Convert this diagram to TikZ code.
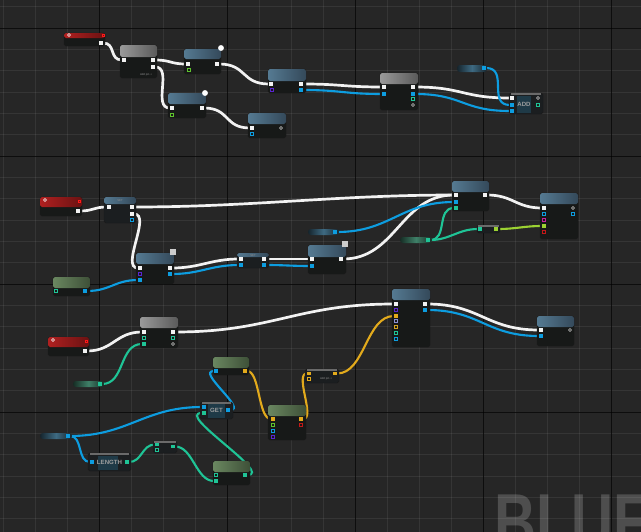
\documentclass[tikz,border=0pt]{standalone}
\usepackage{fontspec}
\setsansfont{Liberation Sans}
\usetikzlibrary{positioning, fit, backgrounds}

\definecolor{canvas}{HTML}{262626}
\definecolor{wmgray}{HTML}{4E4E4E}
\definecolor{nodebody}{HTML}{171918}
\definecolor{cbodyc}{HTML}{1B1E20}
\definecolor{cgridc}{HTML}{1F3A47}
\definecolor{stripc}{HTML}{6A6A6A}
\definecolor{blueA}{HTML}{557A92}
\definecolor{blueB}{HTML}{34495A}
\definecolor{grayA}{HTML}{9A9A9A}
\definecolor{grayB}{HTML}{5A5A5A}
\definecolor{redA}{HTML}{B02020}
\definecolor{redB}{HTML}{6A1212}
\definecolor{greenA}{HTML}{6A8760}
\definecolor{greenB}{HTML}{3E5038}
\definecolor{varblue}{HTML}{3E6A82}
\definecolor{varteal}{HTML}{3F8068}
\definecolor{wirewhite}{HTML}{F2F2F2}
\definecolor{pincyan}{HTML}{0D9DE0}
\definecolor{pinteal}{HTML}{1FC496}
\definecolor{pinyellow}{HTML}{E2AA1C}
\definecolor{pinlime}{HTML}{9CD232}
\definecolor{pingreen}{HTML}{5EC22E}
\definecolor{pinpurple}{HTML}{5A24D0}
\definecolor{pinmagenta}{HTML}{C8209E}
\definecolor{pinred}{HTML}{C41818}
\definecolor{pinlav}{HTML}{8C92D4}
\definecolor{pinorange}{HTML}{D4A420}

\begin{document}
\begin{tikzpicture}[x=0.03cm, y=-0.03cm, font=\sffamily,
    minor/.style={white, opacity=0.07, line width=0.5pt},
    major/.style={black, opacity=0.75, line width=0.7pt},
    logo/.style={inner sep=0pt, text=wmgray, font=\sffamily\bfseries\fontsize{69}{70}\selectfont},
    body/.style={rectangle, draw=black!90, fill=nodebody, rounded corners=1.5pt, inner sep=0pt, outer sep=0pt},
    cbody/.style={body, fill=cbodyc},
    hdr/.style={rectangle, rounded corners=1.5pt, inner sep=0pt, outer sep=0pt, left color=#1A, right color=#1B},
    strip/.style={rectangle, inner sep=0pt, outer sep=0pt, fill=stripc},
    cgrid/.style={rectangle, inner sep=0pt, fill=cgridc},
    var/.style={rectangle, rounded corners=2.5pt, inner sep=0pt, outer sep=0pt, left color=#1!35!black, right color=#1!35!black, middle color=#1},
    xpin/.style={rectangle, fill=wirewhite, minimum size=3.2pt, inner sep=0pt},
    dpin/.style={rectangle, fill=#1, minimum size=3.2pt, inner sep=0pt},
    opin/.style={rectangle, draw=#1, line width=0.5pt, minimum size=2.6pt, inner sep=0pt},
    rpin/.style={circle, draw=white!80!black, line width=0.5pt, minimum size=2.6pt, inner sep=0pt},
    redtag/.style={rectangle, draw=red!90, line width=0.5pt, minimum size=2pt, inner sep=0pt},
    ring/.style={circle, draw=white!60, line width=0.5pt, minimum size=2.6pt, inner sep=0pt},
    bulb/.style={circle, fill=white, minimum size=5pt, inner sep=0pt},
    icon/.style={rectangle, fill=white!80!black, minimum size=4.5pt, inner sep=0pt},
    tag/.style={inner sep=0pt, text=white!55!black, font=\sffamily\fontsize{2.4}{3}\selectfont},
    ctext/.style={inner sep=0pt, text=white!62!black, font=\sffamily\bfseries\fontsize{5.2}{6}\selectfont},
    wire/.style={line cap=round},
    wexec/.style={wire, draw=wirewhite, line width=2.3pt},
    wdata/.style={wire, draw=#1, line width=1.8pt},
]
\useasboundingbox (0,0) rectangle (641,532);

% ========== CANVAS ==========
\begin{scope}[on background layer]
    \fill[canvas] (0,0) rectangle (641,532);
    \begin{scope}
        \clip (0,0) rectangle (641,532);
        \node[logo, anchor=base west] (wm) at (494,550) {\scalebox{0.72}[1]{BLUEPRINT}};
    \end{scope}
    \foreach \x in {3,35,...,643} \draw[minor] (\x,0) -- (\x,532);
    \foreach \y in {6.67,28,...,532} \draw[minor] (0,\y) -- (641,\y);
    \foreach \x in {99,227,...,611} \draw[major] (\x,0) -- (\x,532);
    \foreach \y in {28,156,...,412} \draw[major] (0,\y) -- (641,\y);
\end{scope}

% ========== GRAPH 1 ==========
% Event
\node[body, fit={(64,33) (105,46)}] (e1) {};
\node[hdr=red, fit={(64,33) (105,38)}] (e1h) {};
\node[redtag] (e1t) at (103,35) {};
\node[ring] (e1r) at (69,35) {};
\node[xpin] (e1o) at (101,43) {};

% Sequence
\node[body, fit={(120,45) (157,78)}] (n1) {};
\node[hdr=gray, fit={(120,45) (157,57)}] (n1h) {};
\node[xpin] (n1i) at (124,60) {};
\node[xpin] (n1o1) at (153,60) {};
\node[xpin] (n1o2) at (153,67) {};
\node[tag] (n1t) at (146,75) {Add pin +};

% Calls
\node[body, fit={(184,49) (221,74)}] (n2) {};
\node[hdr=blue, fit={(184,49) (221,59)}] (n2h) {};
\node[bulb] (n2b) at (221,48) {};
\node[xpin] (n2i) at (188,64) {};
\node[xpin] (n2o) at (217,64) {};
\node[opin=pingreen] (n2g) at (189,70) {};

\node[body, fit={(168,93) (206,118)}] (n3) {};
\node[hdr=blue, fit={(168,93) (206,104)}] (n3h) {};
\node[bulb] (n3b) at (205,93) {};
\node[xpin] (n3i) at (172,108) {};
\node[xpin] (n3o) at (202,108) {};
\node[opin=pingreen] (n3g) at (172,115) {};

\node[body, fit={(248,113) (286,138)}] (n4) {};
\node[hdr=blue, fit={(248,113) (286,124)}] (n4h) {};
\node[xpin] (n4i) at (252,128) {};
\node[rpin] (n4r) at (281,128) {};
\node[opin=pincyan] (n4c) at (252,134) {};

\node[body, fit={(268,69) (306,93)}] (n5) {};
\node[hdr=blue, fit={(268,69) (306,81)}] (n5h) {};
\node[xpin] (n5i) at (271,84) {};
\node[xpin] (n5o) at (301,84) {};
\node[opin=pinpurple] (n5p) at (272,90) {};
\node[dpin=pincyan] (n5c) at (301,90) {};

\node[body, fit={(380,73) (418,110)}] (n6) {};
\node[hdr=gray, fit={(380,73) (418,84)}] (n6h) {};
\node[xpin] (n6i) at (384,87) {};
\node[dpin=pincyan] (n6ci) at (384,94) {};
\node[xpin] (n6o) at (413,87) {};
\node[dpin=pincyan] (n6co) at (413,94) {};
\node[opin=pinteal] (n6t) at (413,99) {};
\node[rpin] (n6r) at (413,105) {};

% Add
\node[var=varblue, fit={(457,65) (487,72)}] (n7) {};
\node[dpin=pincyan] (n7o) at (484,68) {};
\node[cbody, fit={(509,93) (543,114)}] (n8) {};
\node[strip, fit={(511,93) (541,95)}] (n8s) {};
\node[cgrid, fit={(517,96) (531,113)}] (n8g) {};
\node[ctext] (n8t) at (524,104.5) {ADD};
\node[xpin] (n8x) at (512,98) {};
\node[dpin=pincyan] (n8a) at (512,105) {};
\node[dpin=pincyan] (n8b) at (512,111) {};
\node[rpin] (n8r) at (538,98) {};
\node[opin=pinteal] (n8o) at (538,105) {};

% ========== GRAPH 2 ==========
\node[body, fit={(40,197) (82,216)}] (e2) {};
\node[hdr=red, fit={(40,197) (82,207)}] (e2h) {};
\node[redtag] (e2t) at (79,201) {};
\node[ring] (e2r) at (45,200) {};
\node[xpin] (e2o) at (78,211) {};

\node[cbody, fit={(104,197) (136,223)}] (b1) {};
\node[hdr=blue, fit={(104,197) (136,204)}] (b1h) {};
\node[tag] (b1t) at (120,200.5) {SET};
\node[xpin] (b1i) at (109,207) {};
\node[xpin] (b1o1) at (132,207) {};
\node[xpin] (b1o2) at (132,214) {};
\node[opin=pincyan] (b1c) at (132,220) {};

\node[body, fit={(136,253) (174,284)}] (b2) {};
\node[hdr=blue, fit={(136,253) (174,264)}] (b2h) {};
\node[icon] (b2x) at (173,252) {};
\node[xpin] (b2i) at (140,268) {};
\node[xpin] (b2o) at (170,268) {};
\node[opin=pinpurple] (b2p) at (140,274) {};
\node[dpin=pincyan] (b2co) at (170,274) {};
\node[dpin=pincyan] (b2ci) at (140,280) {};

\node[body, fit={(53,277) (90,296)}] (g1) {};
\node[hdr=green, fit={(53,277) (90,288)}] (g1h) {};
\node[opin=pinteal] (g1t) at (56,291) {};
\node[dpin=pincyan] (g1o) at (85,291) {};

\node[cbody, fit={(237,253) (269,268)}] (s1) {};
\node[hdr=blue, fit={(237,253) (269,257)}] (s1h) {};
\node[tag] (s1t) at (253,255.5) {SET};
\node[xpin] (s1i) at (241,259) {};
\node[dpin=pincyan] (s1ci) at (241,265) {};
\node[xpin] (s1o) at (264,259) {};
\node[dpin=pincyan] (s1co) at (264,265) {};

\node[body, fit={(308,245) (346,274)}] (b3) {};
\node[hdr=blue, fit={(308,245) (346,257)}] (b3h) {};
\node[icon] (b3x) at (345,244) {};
\node[xpin] (b3i) at (312,259) {};
\node[dpin=pincyan] (b3ci) at (312,266) {};
\node[xpin] (b3o) at (341,259) {};

\node[var=varblue, fit={(308,229) (339,235)}] (v1) {};
\node[dpin=pincyan] (v1o) at (335,232) {};

\node[body, fit={(452,181) (489,211)}] (b4) {};
\node[hdr=blue, fit={(452,181) (489,192)}] (b4h) {};
\node[xpin] (b4i) at (456,195) {};
\node[dpin=pincyan] (b4ci) at (456,202) {};
\node[dpin=pinteal] (b4ti) at (456,208) {};
\node[xpin] (b4o) at (485,195) {};

\node[var=varteal, fit={(400,237) (432,243)}] (v2) {};
\node[dpin=pinteal] (v2o) at (428,240) {};

\node[cbody, fit={(477,225) (500,233)}] (c1) {};
\node[strip, fit={(478,225) (499,226.5)}] (c1s) {};
\node[dpin=pinteal] (c1i) at (480,229) {};
\node[dpin=pinlime] (c1o) at (496,229) {};

\node[body, fit={(540,193) (578,239)}] (b5) {};
\node[hdr=blue, fit={(540,193) (578,204)}] (b5h) {};
\node[xpin] (b5i) at (544,208) {};
\node[opin=pincyan] (b5c) at (544,214) {};
\node[opin=pinmagenta] (b5m) at (544,220) {};
\node[dpin=pinlime] (b5li) at (544,226) {};
\node[opin=pinred] (b5r) at (544,232) {};
\node[rpin] (b5d) at (573,208) {};
\node[opin=pincyan] (b5co) at (573,214) {};

% ========== GRAPH 3 ==========
\node[body, fit={(48,337) (89,356)}] (e3) {};
\node[hdr=red, fit={(48,337) (89,347)}] (e3h) {};
\node[redtag] (e3t) at (86,341) {};
\node[ring] (e3r) at (53,340) {};
\node[xpin] (e3o) at (85,351) {};

\node[body, fit={(140,317) (178,348)}] (p1) {};
\node[hdr=gray, fit={(140,317) (178,328)}] (p1h) {};
\node[xpin] (p1i) at (144,332) {};
\node[opin=pinteal] (p1t) at (144,338) {};
\node[dpin=pinteal] (p1ti) at (144,344) {};
\node[xpin] (p1o) at (173,332) {};
\node[opin=pinteal] (p1to) at (173,338) {};
\node[rpin] (p1r) at (173,344) {};

\node[var=varteal, fit={(73,381) (104,387)}] (v3) {};
\node[dpin=pinteal] (v3o) at (100,384) {};

\node[body, fit={(392,289) (430,347)}] (q1) {};
\node[hdr=blue, fit={(392,289) (430,300)}] (q1h) {};
\node[xpin] (q1i) at (396,304) {};
\node[opin=pinpurple] (q1p) at (396,310) {};
\node[dpin=pinyellow] (q1yi) at (396,316) {};
\node[opin=pinlav] (q1l) at (396,321) {};
\node[opin=pinorange] (q1g) at (396,327) {};
\node[opin=pinteal] (q1t) at (396,333) {};
\node[opin=pincyan] (q1c) at (396,339) {};
\node[xpin] (q1o) at (425,304) {};
\node[dpin=pincyan] (q1co) at (425,310) {};

\node[body, fit={(537,316) (574,346)}] (r1) {};
\node[hdr=blue, fit={(537,316) (574,327)}] (r1h) {};
\node[xpin] (r1i) at (541,330) {};
\node[dpin=pincyan] (r1ci) at (541,336) {};
\node[rpin] (r1r) at (570,330) {};

\node[body, fit={(213,357) (249,375)}] (g2) {};
\node[hdr=green, fit={(213,357) (249,368)}] (g2h) {};
\node[dpin=pincyan] (g2i) at (216,371) {};
\node[dpin=pinyellow] (g2o) at (245,371) {};

\node[cbody, fit={(200,402) (233,419)}] (get) {};
\node[strip, fit={(202,402) (231,404)}] (gets) {};
\node[cgrid, fit={(208,404) (225,418)}] (getg) {};
\node[ctext] (gett0) at (216.5,410.5) {GET};
\node[dpin=pincyan] (geti) at (204,407) {};
\node[dpin=pinteal] (gett) at (204,413) {};
\node[dpin=pincyan] (geto) at (228,410) {};

\node[body, fit={(268,405) (306,440)}] (g3) {};
\node[hdr=green, fit={(268,405) (306,416)}] (g3h) {};
\node[dpin=pinyellow] (g3i) at (273,419) {};
\node[opin=pingreen] (g3g) at (273,425) {};
\node[opin=pincyan] (g3c) at (273,431) {};
\node[opin=pinpurple] (g3p) at (273,437) {};
\node[dpin=pinyellow] (g3o) at (301,419) {};
\node[opin=pinred] (g3r) at (301,425) {};

\node[cbody, fit={(305,369) (339,383)}] (adp) {};
\node[strip, fit={(307,369) (337,371)}] (adps) {};
\node[dpin=pinyellow] (adi) at (309,373.5) {};
\node[dpin=pinyellow] (ado) at (335,373.5) {};
\node[opin=pinyellow] (ady) at (309,379) {};
\node[tag] (adt) at (326,379) {Add pin +};

\node[var=varblue, fit={(40,433) (72,439)}] (v4) {};
\node[dpin=pincyan] (v4o) at (68,436) {};

\node[cbody, fit={(88,453) (131,471)}] (len) {};
\node[strip, fit={(90,453) (129,455)}] (lens) {};
\node[cgrid, fit={(98,456) (118,470)}] (leng) {};
\node[ctext] (lent) at (109.5,462.5) {LENGTH};
\node[dpin=pincyan] (leni) at (92,462) {};
\node[dpin=pinteal] (leno) at (127,462) {};

\node[cbody, fit={(153,441) (177,453)}] (m1) {};
\node[strip, fit={(154,441) (176,442.5)}] (m1s) {};
\node[dpin=pinteal] (m1i) at (157,444.5) {};
\node[opin=pinteal] (m1x) at (157,449.5) {};
\node[dpin=pinteal] (m1o) at (173,446.5) {};

\node[body, fit={(213,461) (250,485)}] (g4) {};
\node[hdr=green, fit={(213,461) (250,472)}] (g4h) {};
\node[opin=pinteal] (g4t) at (216,475) {};
\node[dpin=pinteal] (g4ti) at (216,481) {};
\node[dpin=pinteal] (g4o) at (245,475) {};

% ========== WIRES ==========
\begin{scope}[on background layer]
\draw[wexec] (e1o) .. controls +(15,0) and +(-15,0) .. (n1i);
\draw[wexec] (n1o1) .. controls +(18,0) and +(-18,0) .. (n2i);
\draw[wexec] (n1o2) .. controls +(20,0) and +(-20,0) .. (n3i);
\draw[wexec] (n2o) .. controls +(30,0) and +(-30,0) .. (n5i);
\draw[wexec] (n3o) .. controls +(28,0) and +(-28,0) .. (n4i);
\draw[wexec] (n5o) .. controls +(40,0) and +(-40,0) .. (n6i);
\draw[wdata=pincyan] (n5c) .. controls +(40,0) and +(-40,0) .. (n6ci);
\draw[wexec] (n6o) .. controls +(50,0) and +(-50,0) .. (n8x);
\draw[wdata=pincyan] (n6co) .. controls +(50,0) and +(-50,0) .. (n8b);
\draw[wdata=pincyan] (n7o) .. controls +(25,0) and +(-25,0) .. (n8a);

\draw[wexec] (e2o) .. controls +(15,0) and +(-15,0) .. (b1i);
\draw[wexec] (b1o1) .. controls +(120,0) and +(-120,0) .. (b4i);
\draw[wexec] (b1o2) .. controls +(20,0) and +(-20,0) .. (b2i);
\draw[wdata=pincyan] (g1o) .. controls +(25,0) and +(-25,0) .. (b2ci);
\draw[wexec] (b2o) .. controls +(30,0) and +(-30,0) .. (s1i);
\draw[wdata=pincyan] (b2co) .. controls +(30,0) and +(-30,0) .. (s1ci);
\draw[wexec] (s1o) .. controls +(20,0) and +(-20,0) .. (b3i);
\draw[wdata=pincyan] (s1co) .. controls +(20,0) and +(-20,0) .. (b3ci);
\draw[wexec] (b3o) .. controls +(55,0) and +(-55,0) .. (b4i);
\draw[wdata=pincyan] (v1o) .. controls +(55,0) and +(-55,0) .. (b4ci);
\draw[wdata=pinteal] (v2o) .. controls +(20,0) and +(-20,0) .. (b4ti);
\draw[wdata=pinteal] (v2o) .. controls +(22,0) and +(-22,0) .. (c1i);
\draw[wdata=pinlime] (c1o) .. controls +(20,0) and +(-20,0) .. (b5li);
\draw[wexec] (b4o) .. controls +(28,0) and +(-28,0) .. (b5i);

\draw[wexec] (e3o) .. controls +(28,0) and +(-28,0) .. (p1i);
\draw[wdata=pinteal] (v3o) .. controls +(25,0) and +(-25,0) .. (p1ti);
\draw[wexec] (p1o) .. controls +(100,0) and +(-100,0) .. (q1i);
\draw[wexec] (q1o) .. controls +(55,0) and +(-55,0) .. (r1i);
\draw[wdata=pincyan] (q1co) .. controls +(55,0) and +(-55,0) .. (r1ci);
\draw[wdata=pinyellow] (ado) .. controls +(30,0) and +(-30,0) .. (q1yi);
\draw[wdata=pinyellow] (g3o) .. controls +(15,0) and +(-15,0) .. (adi);
\draw[wdata=pinyellow] (g2o) .. controls +(15,0) and +(-15,0) .. (g3i);
\draw[wdata=pincyan] (geto) .. controls +(20,0) and +(-20,0) .. (g2i);
\draw[wdata=pincyan] (v4o) .. controls +(60,0) and +(-60,0) .. (geti);
\draw[wdata=pincyan] (v4o) .. controls +(15,0) and +(-15,0) .. (leni);
\draw[wdata=pinteal] (leno) .. controls +(15,0) and +(-15,0) .. (m1i);
\draw[wdata=pinteal] (m1o) .. controls +(20,0) and +(-20,0) .. (g4ti);
\draw[wdata=pinteal] (g4o) .. controls +(30,0) and +(-30,0) .. (gett);
\end{scope}

\end{tikzpicture}
\end{document}
